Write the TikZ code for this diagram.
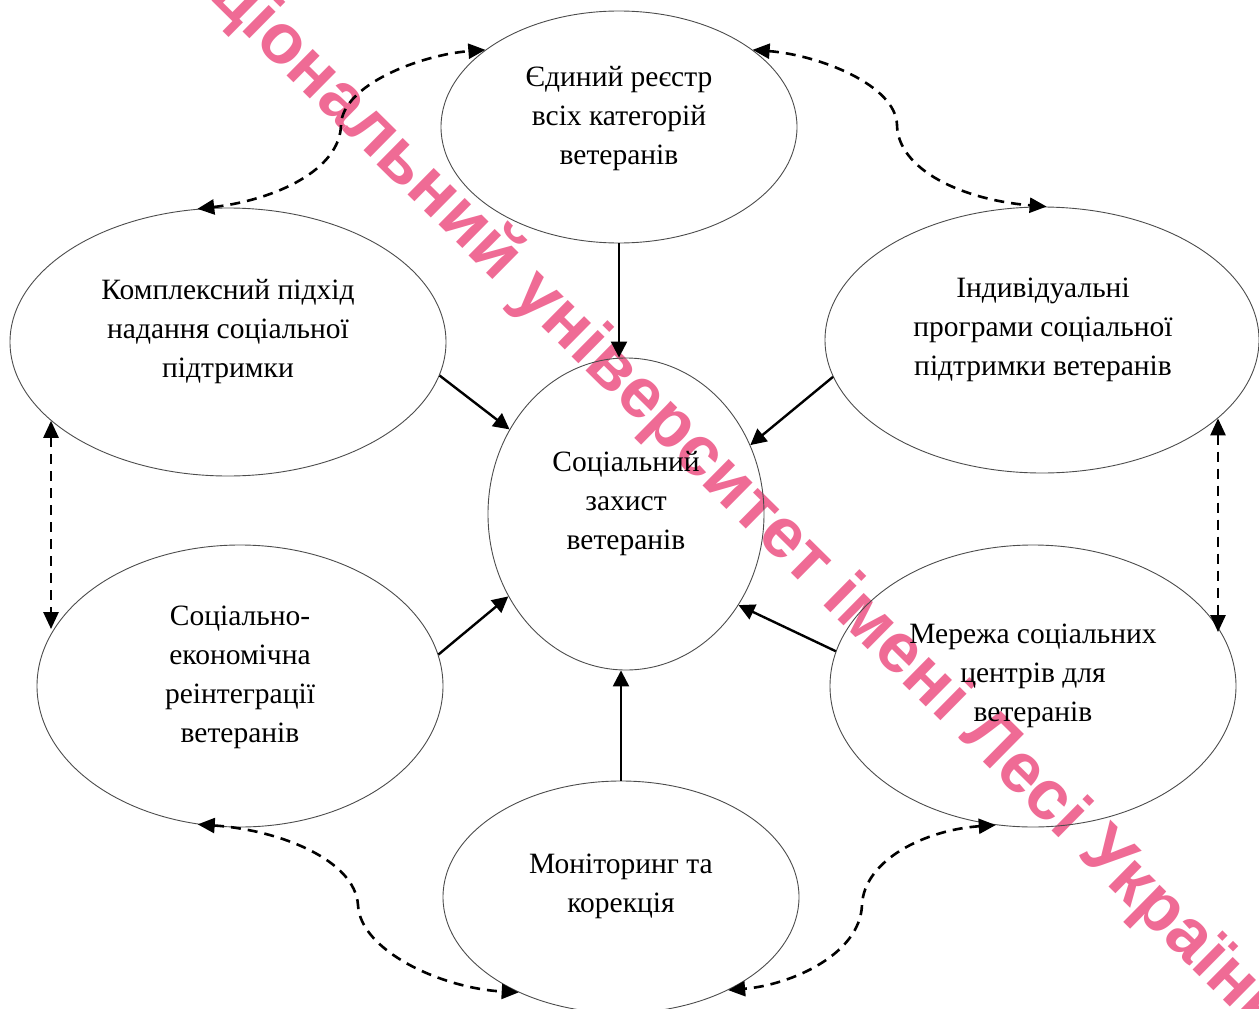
\documentclass[tikz,border=0pt]{standalone}
\usepackage{fontspec}
\setmainfont{Liberation Serif}
\newfontfamily\wmfont{Liberation Sans}
\usetikzlibrary{shapes.geometric,arrows.meta,calc}
\definecolor{wmpink}{RGB}{239,107,149}
\newlength\wmA
\newlength\wmC
\newlength\wmI
\newcommand\wmfsel{\wmfont\bfseries\fontsize{70}{84}\selectfont}
\begin{document}
\settowidth{\wmA}{\wmfsel іональний університет імені Лесі Укра}%
\settowidth{\wmC}{\wmfsel нац}%
\settowidth{\wmI}{\wmfsel і}%
\pgfmathsetmacro{\wms}{1335.1/\wmA}%
\pgfmathsetmacro{\wmoffv}{\wms*(\wmC+0.5*\wmI)}%
\begin{tikzpicture}[x=1pt,y=-1pt,
  oval/.style={ellipse, draw=black!70, line width=0.9pt, inner sep=0pt},
  lbl/.style={align=center, font=\fontsize{29.5}{39}\selectfont, inner sep=0pt},
  solidarr/.style={line width=2.4pt, -{Triangle[length=16pt,width=16pt]}},
  dasharr/.style={line width=2.6pt, dash pattern=on 10pt off 7pt,
     {Triangle[length=17pt,width=15pt]}-{Triangle[length=17pt,width=15pt]}},
  wm/.style={text=wmpink, font=\wmfsel, inner sep=0pt}]
\useasboundingbox (0,0) rectangle (1259,1009);
% watermark
\begin{scope}
\clip (0,0) rectangle (1259,1009);
\node[wm, rotate=-44.63, scale=\wms, anchor=base west] (wm) at ($(246,35)+({-44.63}:{-\wmoffv pt})$) {національний університет імені Лесі Українки};
\end{scope}
% ellipses
\node[oval, minimum width=356pt, minimum height=232pt] (T) at (619,127) {};
\node[oval, minimum width=436pt, minimum height=268pt] (LT) at (228,342) {};
\node[oval, minimum width=434pt, minimum height=266pt] (RT) at (1042,340) {};
\node[oval, minimum width=276pt, minimum height=312pt] (C) at (626,514) {};
\node[oval, minimum width=406pt, minimum height=282pt] (LB) at (240,686) {};
\node[oval, minimum width=406pt, minimum height=282pt] (RB) at (1033,686) {};
\node[oval, minimum width=356pt, minimum height=232pt] (B) at (621,897) {};
% labels
\node[lbl] (Tt) at (619,119) {Єдиний реєстр\\всіх категорій\\ветеранів};
\node[lbl] (LTt) at (228,332) {Комплексний підхід\\надання соціальної\\підтримки};
\node[lbl] (RTt) at (1043,330) {Індивідуальні\\програми соціальної\\підтримки ветеранів};
\node[lbl] (Ct) at (626,504) {Соціальний\\захист\\ветеранів};
\node[lbl] (LBt) at (240,677) {Соціально-\\економічна\\реінтеграції\\ветеранів};
\node[lbl] (RBt) at (1033,676) {Мережа соціальних\\центрів для\\ветеранів};
\node[lbl] (Bt) at (621,886) {Моніторинг та\\корекція};
% solid arrows
\draw[solidarr] (T.south) -- (T.south |- C.north);
\draw[solidarr] (LT.-9) -- (C.144);
\draw[solidarr] (RT.-170) -- (C.29);
\draw[solidarr] (LB.9.5) -- (C.215);
\draw[solidarr] (RB.170) -- (C.-39);
\draw[solidarr] (B.north) -- (B.north |- C.south);
% dashed arrows
\draw[dasharr] (LT.103) .. controls (275,200) and (340,170) .. (341,125)
   .. controls (342,85) and (420,55) .. (T.150);
\draw[dasharr] (T.30) .. controls (819,55) and (896,85) .. (897,125)
   .. controls (898,170) and (963,200) .. (RT.88.7);
\draw[dasharr] (LT.204) -- (LT.204 |- LB.163);
\draw[dasharr] (RT.-24) -- (RT.-24 |- RB.16);
\draw[dasharr] (LB.253) .. controls (280,830) and (355,860) .. (358,905)
   .. controls (360,950) and (440,988) .. (B.223);
\draw[dasharr] (RB.255.5) .. controls (925,830) and (864,860) .. (862,905)
   .. controls (860,955) and (790,985) .. (B.-41);
\end{tikzpicture}
\end{document}
